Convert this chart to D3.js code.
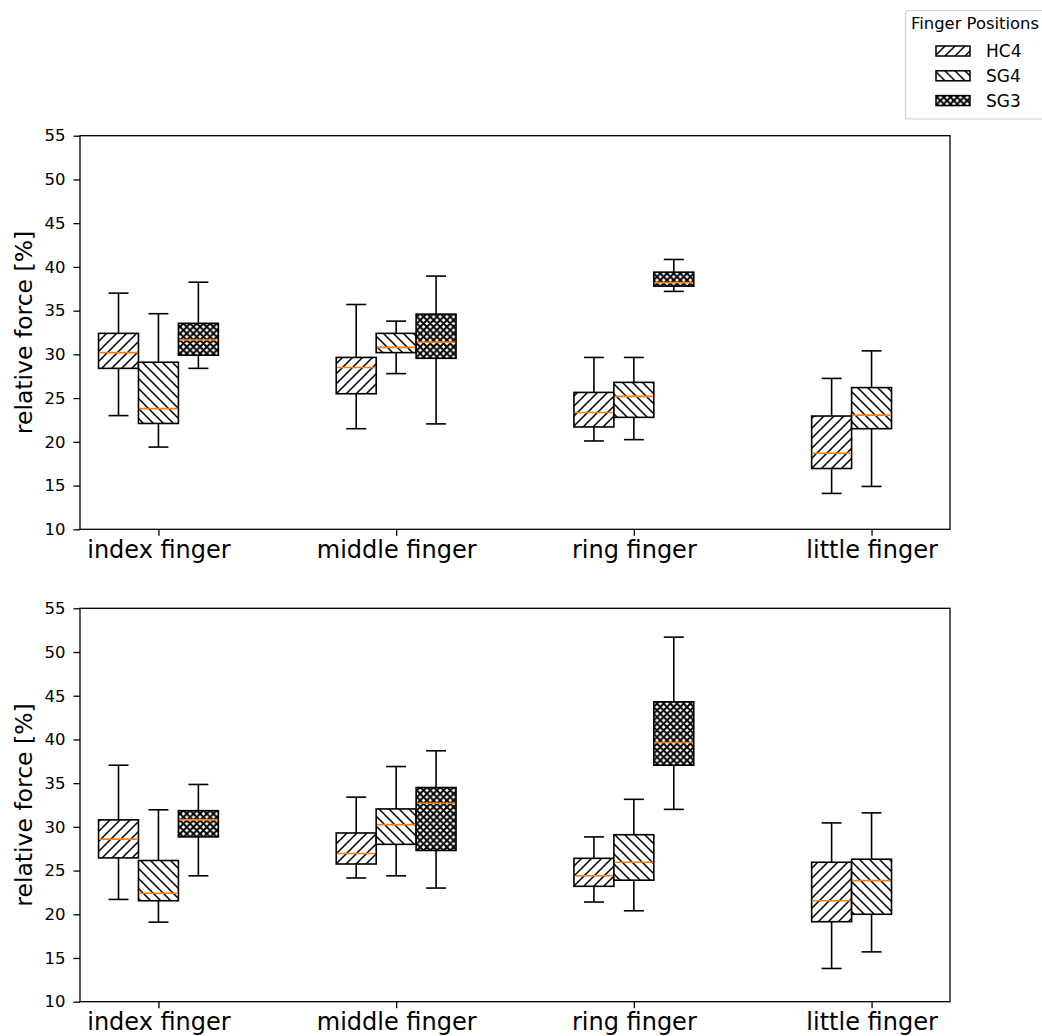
<!DOCTYPE html>
<html>
<head>
<meta charset="utf-8">
<script src="https://cdn.jsdelivr.net/npm/d3@7"></script>
<style>
  body { margin: 0; background: #fff; }
  text { font-family: "DejaVu Sans", sans-serif; fill: #000; }
</style>
</head>
<body>
<script>
//------------------------------------------------------------
//--------------------------- Data ---------------------------

var fingers = ["index finger", "middle finger", "ring finger", "little finger"];
var positions = ["HC4", "SG4", "SG3"];
var yTicks = [10, 15, 20, 25, 30, 35, 40, 45, 50, 55];

// each box: [lower whisker, q1, median, q3, upper whisker], null = not measured
var topHC4 = [[23.0, 28.4, 30.2, 32.4, 37.0], [21.5, 25.5, 28.5, 29.65, 35.7], [20.1, 21.7, 23.35, 25.65, 29.65], [14.1, 16.95, 18.7, 22.95, 27.25]];
var topSG4 = [[19.4, 22.1, 23.8, 29.1, 34.65], [27.8, 30.2, 30.8, 32.4, 33.8], [20.25, 22.8, 25.2, 26.8, 29.65], [14.9, 21.5, 23.05, 26.2, 30.4]];
var topSG3 = [[28.4, 29.9, 31.65, 33.55, 38.25], [22.05, 29.55, 31.4, 34.6, 38.95], [37.2, 37.8, 38.2, 39.4, 40.85], null];

var botHC4 = [[21.7, 26.45, 28.6, 30.8, 37.05], [24.15, 25.75, 26.95, 29.3, 33.4], [21.4, 23.2, 24.4, 26.4, 28.85], [13.8, 19.15, 21.55, 25.95, 30.45]];
var botSG4 = [[19.1, 21.55, 22.4, 26.15, 31.95], [24.4, 28.0, 30.25, 32.05, 36.9], [20.4, 23.9, 25.95, 29.1, 33.15], [15.7, 20.0, 23.85, 26.3, 31.6]];
var botSG3 = [[24.4, 28.85, 30.8, 31.85, 34.85], [23.0, 27.3, 32.7, 34.5, 38.7], [32.0, 37.05, 39.65, 44.3, 51.7], null];

//------------------------------------------------------------
//------------------------ Layout ----------------------------

var width = 1042, height = 1036;
var left = 80, right = 950;
var panels = [
    { top: 135.7, bottom: 529.3, series: { HC4: topHC4, SG4: topSG4, SG3: topSG3 } },
    { top: 608.3, bottom: 1001.7, series: { HC4: botHC4, SG4: botSG4, SG3: botSG3 } }
];

var boxW = 0.168;   // box width in category units
var offset = { HC4: -boxW, SG4: 0, SG3: boxW };

var svg = d3.select("body").append("svg")
    .attr("width", width)
    .attr("height", height);

//------------------------------------------------------------
//------------------------ Hatches ---------------------------

var defs = svg.append("defs");

function hatch(id, fwd, back, s, sw) {
    var p = defs.append("pattern")
        .attr("id", id)
        .attr("patternUnits", "userSpaceOnUse")
        .attr("width", s).attr("height", s);
    p.append("rect").attr("width", s).attr("height", s).attr("fill", "#fff");
    var d = "";
    if (fwd) d += "M" + (-s) + "," + s + "L" + s + "," + (-s) +
                  "M0," + 2 * s + "L" + 2 * s + ",0" +
                  "M" + (-s) + "," + 2 * s + "L" + 2 * s + "," + (-s);
    if (back) d += "M" + (-s) + ",0L" + s + "," + 2 * s +
                   "M0," + (-s) + "L" + 2 * s + "," + s +
                   "M" + (-s) + "," + (-s) + "L" + 2 * s + "," + 2 * s;
    p.append("path").attr("d", d)
        .attr("stroke", "#000").attr("stroke-width", sw).attr("fill", "none");
}
hatch("h-HC4", true, false, 10, 1.5);
hatch("h-SG4", false, true, 10, 1.5);
hatch("h-SG3", true, true, 6.67, 1.9);

//------------------------------------------------------------
//------------------------ Panels ----------------------------

var x = d3.scaleLinear().domain([-0.33, 3.33]).range([left, right]);

panels.forEach(function(pn) {
    var y = d3.scaleLinear().domain([10, 55]).range([pn.bottom, pn.top]);
    var g = svg.append("g");

    // boxes
    positions.forEach(function(pos) {
        pn.series[pos].forEach(function(b, i) {
            if (!b) return;
            var cx = x(i + offset[pos]);
            var x0 = x(i + offset[pos] - boxW / 2), x1 = x(i + offset[pos] + boxW / 2);
            var c0 = x(i + offset[pos] - boxW / 4), c1 = x(i + offset[pos] + boxW / 4);
            var bg = g.append("g").attr("stroke", "#000").attr("stroke-width", 1.6);
            // whiskers
            bg.append("line").attr("x1", cx).attr("x2", cx).attr("y1", y(b[0])).attr("y2", y(b[1]));
            bg.append("line").attr("x1", cx).attr("x2", cx).attr("y1", y(b[3])).attr("y2", y(b[4]));
            // caps
            bg.append("line").attr("x1", c0).attr("x2", c1).attr("y1", y(b[0])).attr("y2", y(b[0]));
            bg.append("line").attr("x1", c0).attr("x2", c1).attr("y1", y(b[4])).attr("y2", y(b[4]));
            // box
            bg.append("rect")
                .attr("x", x0).attr("width", x1 - x0)
                .attr("y", y(b[3])).attr("height", y(b[1]) - y(b[3]))
                .attr("fill", "url(#h-" + pos + ")");
            // median
            g.append("line")
                .attr("x1", x0 + 0.8).attr("x2", x1 - 0.8)
                .attr("y1", y(b[2])).attr("y2", y(b[2]))
                .attr("stroke", "#ff7f0e").attr("stroke-width", 1.6);
        });
    });

    // frame
    g.append("rect")
        .attr("x", left).attr("y", pn.top)
        .attr("width", right - left).attr("height", pn.bottom - pn.top)
        .attr("fill", "none").attr("stroke", "#000").attr("stroke-width", 1.3);

    // y axis
    var ya = g.append("g")
        .attr("transform", "translate(" + left + ",0)")
        .call(d3.axisLeft(y).tickValues(yTicks).tickSize(6.5).tickPadding(8));
    ya.select(".domain").remove();
    ya.selectAll(".tick line").attr("stroke", "#000").attr("stroke-width", 1.3);
    ya.selectAll(".tick text").attr("font-size", "16.5px").attr("font-family", "DejaVu Sans").attr("fill", "#000");

    // x axis
    var xa = g.append("g")
        .attr("transform", "translate(0," + pn.bottom + ")")
        .call(d3.axisBottom(x).tickValues([0, 1, 2, 3]).tickSize(6.5).tickPadding(5)
            .tickFormat(function(d) { return fingers[d]; }));
    xa.select(".domain").remove();
    xa.selectAll(".tick line").attr("stroke", "#000").attr("stroke-width", 1.3);
    xa.selectAll(".tick text").attr("font-size", "24px").attr("font-family", "DejaVu Sans").attr("fill", "#000");

    // y label
    g.append("text")
        .attr("transform", "translate(32," + (pn.top + pn.bottom) / 2 + ") rotate(-90)")
        .attr("text-anchor", "middle")
        .attr("font-size", "23.5px")
        .text("relative force [%]");
});

//------------------------------------------------------------
//------------------------ Legend ----------------------------

var lg = svg.append("g");
lg.append("rect")
    .attr("x", 905.5).attr("y", 10.5).attr("width", 150).attr("height", 108.5)
    .attr("rx", 3).attr("fill", "#fff").attr("stroke", "#d0d0d0").attr("stroke-width", 1.2);
lg.append("text")
    .attr("x", 911).attr("y", 29)
    .attr("font-size", "16.4px")
    .text("Finger Positions");

var rows = lg.selectAll("g.row")
    .data(positions)
    .enter().append("g")
    .attr("class", "row")
    .attr("transform", function(d, i) { return "translate(0," + (51 + i * 24.8) + ")"; });

rows.append("rect")
    .attr("x", 936).attr("y", -5).attr("width", 34).attr("height", 10)
    .attr("fill", function(d) { return "url(#h-" + d + ")"; })
    .attr("stroke", "#000").attr("stroke-width", 1.5);

rows.append("text")
    .attr("x", 986).attr("y", 6)
    .attr("font-size", "17px")
    .text(function(d) { return d; });
</script>
</body>
</html>
